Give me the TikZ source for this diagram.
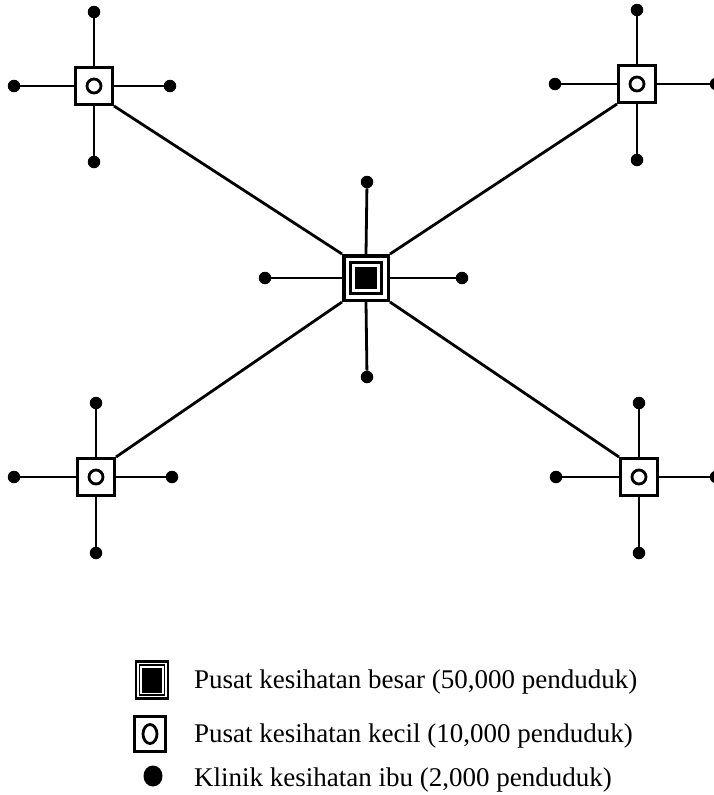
\documentclass[tikz,border=0pt]{standalone}
\usepackage{fontspec}
\setmainfont{Liberation Serif}
\usetikzlibrary{shapes.geometric}
\begin{document}
\begin{tikzpicture}[x=1pt,y=-1pt,
  hub/.style={draw, line width=3.5pt, minimum size=44.5pt, inner sep=0pt},
  hubring/.style={draw, line width=2.8pt, minimum size=31pt, inner sep=0pt},
  hubcore/.style={fill, minimum size=22pt, inner sep=0pt},
  sub/.style={draw, fill=white, line width=3pt, minimum size=37pt, inner sep=0pt},
  subring/.style={circle, draw, line width=2.8pt, minimum size=14pt, inner sep=0pt},
  clinic/.style={circle, fill, inner sep=0pt, minimum size=12.5pt},
  link/.style={line width=2.8pt},
  legtext/.style={anchor=base west, inner sep=0pt, font=\fontsize{27}{32}\selectfont}]
\useasboundingbox (0,0) rectangle (714,795);
\clip (0,0) rectangle (714,795);

% health centres
\node[hub] (c) at (366,278) {};
\node[hubring] at (c.center) {};
\node[hubcore] at (c.center) {};
\node[sub] (tl) at (94,86) {};
\node[sub] (tr) at (637,84) {};
\node[sub] (bl) at (96,477) {};
\node[sub] (br) at (639,477) {};
\foreach \s in {tl,tr,bl,br} \node[subring] at (\s.center) {};

% maternal clinics
\node[clinic] (c-n) at (367,182) {};
\node[clinic] (c-s) at (367,377) {};
\node[clinic] (c-w) at (265,278) {};
\node[clinic] (c-e) at (462,278) {};
\node[clinic] (tl-n) at (94,12) {};
\node[clinic] (tl-s) at (94,162) {};
\node[clinic] (tl-w) at (14,86) {};
\node[clinic] (tl-e) at (170,86) {};
\node[clinic] (tr-n) at (637,10) {};
\node[clinic] (tr-s) at (637,160) {};
\node[clinic] (tr-w) at (555,84) {};
\node[clinic] (tr-e) at (716,84) {};
\node[clinic] (bl-n) at (96,403) {};
\node[clinic] (bl-s) at (96,553) {};
\node[clinic] (bl-w) at (14,477) {};
\node[clinic] (bl-e) at (172,477) {};
\node[clinic] (br-n) at (639,403) {};
\node[clinic] (br-s) at (639,553) {};
\node[clinic] (br-w) at (556,477) {};
\node[clinic] (br-e) at (716,477) {};

% spokes
\foreach \s in {c,tl,tr,bl,br}
  \foreach \d/\a in {n/north,s/south,w/west,e/east}
    \draw[link] (\s.\a) -- (\s-\d);

% links between centres
\draw[link] (tl.south east) -- (c.north west);
\draw[link] (tr.south west) -- (c.north east);
\draw[link] (bl.north east) -- (c.south west);
\draw[link] (br.north west) -- (c.south east);

% legend
\node[draw, line width=2.8pt, minimum width=32pt, minimum height=37pt, inner sep=0pt] (lg-hub) at (152,680) {};
\node[draw, line width=1.8pt, minimum width=25pt, minimum height=30pt, inner sep=0pt] at (lg-hub.center) {};
\node[fill, minimum width=20pt, minimum height=25pt, inner sep=0pt] at (lg-hub.center) {};
\node[draw, line width=2.8pt, minimum width=31pt, minimum height=35pt, inner sep=0pt] (lg-sub) at (150,734) {};
\node[ellipse, draw, line width=2.8pt, minimum width=14pt, minimum height=19pt, inner sep=0pt] at (lg-sub.center) {};
\node[ellipse, fill, minimum width=19pt, minimum height=21pt, inner sep=0pt] (lg-clinic) at (153,776) {};
\node[legtext] at (194,688) {Pusat kesihatan besar (50,000 penduduk)};
\node[legtext] at (194,742) {Pusat kesihatan kecil (10,000 penduduk)};
\node[legtext] at (194,786) {Klinik kesihatan ibu (2,000 penduduk)};
\end{tikzpicture}
\end{document}
